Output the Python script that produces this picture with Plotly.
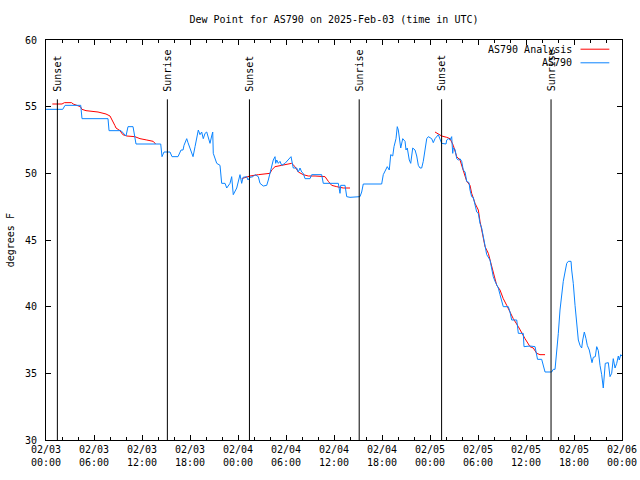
import pandas as pd
import plotly.graph_objects as go

START = pd.Timestamp("2025-02-03 00:00")

# Observed dew point (AS790): hours after 2025-02-03 00:00 UTC, degrees F
obs_hours = [0.0, 2.09, 2.38, 4.34, 4.5, 7.75, 7.88, 9.38, 10.0, 10.25, 10.88, 11.13, 11.25, 14.34,
             14.5, 14.75, 15.5, 15.75, 16.5, 16.88, 17.13, 17.25, 17.59, 17.75, 18.21, 18.38, 18.63,
             18.84, 19.04, 19.25, 19.46, 19.66, 19.88, 20.09, 20.29, 20.5, 20.71, 20.84, 20.91, 21.13,
             21.34, 21.75, 21.96, 22.38, 22.59, 23.0, 23.21, 23.41, 23.84, 24.25, 24.46, 24.63, 25.09,
             25.25, 25.5, 25.88, 26.13, 26.54, 26.75, 27.16, 27.59, 27.79, 28.0, 28.21, 28.41, 28.63,
             28.71, 28.84, 29.04, 29.25, 29.46, 29.88, 30.29, 30.5, 30.63, 30.71, 30.91, 31.34, 31.54,
             31.75, 31.96, 32.16, 32.38, 33.0, 33.21, 34.46, 34.66, 36.54, 36.75, 36.84, 37.38, 37.59,
             38.0, 39.25, 39.46, 39.66, 41.96, 42.16, 42.38, 42.66, 42.91, 43.09, 43.34, 43.5, 43.75,
             43.91, 44.04, 44.16, 44.34, 44.59, 44.88, 45.0, 45.16, 45.41, 45.59, 45.84, 46.13, 46.34,
             46.54, 46.75, 46.96, 47.16, 47.38, 47.59, 47.79, 48.21, 48.41, 48.63, 49.04, 49.25, 49.46,
             50.0, 50.09, 50.29, 50.5, 50.71, 50.84, 50.91, 51.13, 51.34, 51.54, 51.75, 51.96, 52.16,
             52.38, 52.59, 52.88, 53.0, 53.21, 53.41, 53.63, 53.84, 54.04, 54.25, 54.46, 54.66, 54.88,
             55.09, 55.5, 55.71, 55.91, 56.13, 56.54, 56.75, 57.16, 57.79, 58.0, 58.21, 58.84, 59.04,
             59.66, 59.75, 60.5, 61.13, 61.34, 61.44, 61.96, 62.16, 62.38, 63.21, 63.41, 63.63, 63.84,
             64.04, 64.25, 64.46, 64.66, 64.88, 65.09, 65.29, 65.63, 65.71, 65.91, 66.13, 66.34, 66.54,
             66.75, 66.96, 67.09, 67.29, 67.5, 67.66, 67.91, 68.09, 68.25, 68.41, 68.66, 68.84, 69.04,
             69.25, 69.46, 69.66, 69.75, 69.91, 70.29, 70.5, 70.71, 70.91, 71.13, 71.34, 71.54, 71.66,
             71.84, 72.0]
obs_values = [54.8, 54.8, 55.1, 55.1, 54.1, 54.1, 53.2, 53.2, 52.8, 53.5, 53.5, 52.8, 52.2, 52.2,
              51.25, 51.6, 51.6, 51.25, 51.25, 51.75, 51.75, 52.1, 52.6, 52.3, 51.5, 51.25, 52.0,
              52.75, 53.25, 52.9, 53.1, 52.6, 53.0, 53.1, 52.75, 52.25, 52.8, 53.1, 51.5, 51.1,
              50.75, 50.6, 49.25, 49.25, 48.9, 49.25, 49.75, 48.4, 48.9, 49.9, 49.25, 49.7, 49.75,
              49.5, 49.7, 49.75, 49.9, 49.75, 49.25, 49.05, 49.1, 49.5, 50.0, 50.4, 51.0, 51.25,
              50.75, 51.0, 50.75, 50.9, 50.6, 50.75, 51.0, 51.1, 51.25, 51.0, 50.4, 50.4, 50.1,
              50.4, 50.1, 50.0, 49.6, 49.6, 49.9, 49.9, 49.25, 49.25, 48.5, 49.1, 49.1, 48.25,
              48.2, 48.25, 48.6, 49.2, 49.2, 49.9, 50.2, 50.5, 50.25, 51.4, 51.3, 52.0, 52.6,
              53.5, 53.25, 52.5, 51.9, 52.6, 52.4, 51.75, 51.9, 51.0, 50.75, 51.9, 51.75, 51.3,
              50.6, 50.4, 50.4, 50.9, 52.0, 52.6, 52.75, 52.6, 52.3, 52.6, 52.9, 52.5, 52.25,
              52.2, 52.5, 52.6, 52.5, 52.75, 51.5, 51.9, 51.8, 51.1, 51.0, 51.1, 50.9, 50.25,
              50.1, 49.4, 49.3, 48.75, 48.25, 48.2, 47.5, 47.1, 47.0, 46.25, 45.9, 45.25, 44.5,
              43.9, 43.5, 42.9, 42.25, 41.9, 41.4, 40.9, 40.0, 40.0, 39.6, 39.0, 39.0, 38.0,
              38.0, 37.0, 37.05, 37.0, 36.5, 36.05, 36.05, 35.6, 35.1, 35.1, 35.3, 35.3, 36.5,
              38.0, 39.75, 41.0, 41.9, 42.6, 43.25, 43.4, 43.4, 42.75, 41.75, 40.1, 38.4, 37.5,
              37.1, 36.9, 37.5, 38.1, 37.6, 37.1, 36.75, 36.25, 35.8, 36.2, 36.25, 37.0, 36.7,
              35.6, 34.9, 33.9, 34.7, 35.75, 35.8, 34.75, 35.0, 36.1, 35.4, 35.75, 36.3, 36.0,
              36.4, 36.3]

# Analysis (three separate night-time segments; None = gap)
ana_hours = [0.79, 2.0, 2.3, 3.2, 3.4, 4.3, 4.5, 5.0, 6.5, 7.5, 8.0, 8.3, 8.6, 8.75, 9.25, 9.6,
             10.1, 11.1, 11.75, 12.6, 13.4, 13.7, 13.8,
             24.46, 25.09, 25.5, 26.54, 27.38, 28.0, 28.21, 28.63, 29.46, 30.09, 30.71, 31.13,
             31.54, 32.16, 32.79, 33.63, 34.46, 34.88, 35.29, 35.71, 36.34, 37.16, 38.0, 38.1,
             48.63, 49.04, 49.46, 50.09, 50.5, 50.91, 51.34, 51.75, 52.16, 52.59, 53.0, 53.21,
             53.63, 54.04, 54.25, 54.66, 54.88, 55.29, 55.71, 56.13, 56.34, 56.75, 57.16, 57.59,
             58.0, 58.41, 59.04, 59.46, 59.88, 60.5, 60.91, 61.34, 61.75, 62.38]
ana_values = [55.2, 55.2, 55.3, 55.3, 55.2, 55.0, 54.8, 54.7, 54.6, 54.45, 54.3, 54.0, 53.6, 53.4,
              53.2, 52.9, 52.8, 52.75, 52.6, 52.5, 52.4, 52.2, None,
              49.6, 49.7, 49.8, 49.9, 49.95, 50.0, 50.25, 50.5, 50.6, 50.7, 50.75, 50.5, 50.1,
              49.9, 49.8, 49.8, 49.75, 49.75, 49.4, 49.1, 49.0, 48.9, 48.9, None,
              53.1, 52.95, 52.8, 52.7, 52.6, 52.1, 51.25, 51.0, 50.25, 49.4, 49.1, 48.5, 47.75,
              47.25, 46.4, 45.1, 44.5, 44.0, 43.1, 42.25, 41.6, 41.25, 40.6, 40.1, 39.6, 39.1,
              38.5, 38.0, 37.6, 37.0, 36.9, 36.5, 36.4, 36.4]

# Sun events (hours after start) and their labels
sun_hours = [1.42, 15.17, 25.43, 39.15, 49.45, 63.13]
sun_labels = ["Sunset", "Sunrise", "Sunset", "Sunrise", "Sunset", "Sunrise"]
sun_line_top = 55.55

title_text = "Dew Point for AS790 on 2025-Feb-03 (time in UTC)"
y_title = "degrees F"
name_obs = "AS790"
name_ana = "AS790 Analysis"

FONT = "DejaVu Sans Mono"
BLUE = "#0a84ff"
RED = "#ff0000"


def to_time(hours):
    return [START + pd.Timedelta(hours=h) for h in hours]


fig = go.Figure()
fig.add_trace(go.Scatter(x=to_time(ana_hours), y=ana_values, mode="lines",
                         line=dict(color=RED, width=1), name=name_ana,
                         connectgaps=False, showlegend=False))
fig.add_trace(go.Scatter(x=to_time(obs_hours), y=obs_values, mode="lines",
                         line=dict(color=BLUE, width=1), name=name_obs, showlegend=False))

for t, lab in zip(to_time(sun_hours), sun_labels):
    fig.add_shape(type="line", x0=t, x1=t, y0=30, y1=sun_line_top, xref="x", yref="y",
                  line=dict(color="black", width=1))
    fig.add_annotation(x=t, y=sun_line_top, xref="x", yref="y", text=lab, textangle=-90,
                       showarrow=False, xanchor="center", yanchor="bottom", yshift=6,
                       font=dict(family=FONT, size=10, color="black"))

# Legend drawn gnuplot-style (text right, sample line to its right)
leg_items = [(name_ana, RED, 0.977), (name_obs, BLUE, 0.943)]
for name, col, yp in leg_items:
    fig.add_annotation(x=0.916, y=yp, xref="paper", yref="paper", text=name,
                       showarrow=False, xanchor="right", yanchor="middle",
                       font=dict(family=FONT, size=10, color="black"))
    fig.add_shape(type="line", x0=0.928, x1=0.978, y0=yp, y1=yp, xref="paper", yref="paper",
                  line=dict(color=col, width=1))

fig.add_annotation(x=-0.062, y=0.5, xref="paper", yref="paper", text=y_title, textangle=-90,
                   showarrow=False, xanchor="center", yanchor="middle",
                   font=dict(family=FONT, size=10, color="black"))

fig.update_layout(
    width=640, height=480,
    margin=dict(l=46, r=18, t=40, b=40, autoexpand=False),
    paper_bgcolor="white", plot_bgcolor="white",
    font=dict(family=FONT, size=10, color="black"),
    title=dict(text=title_text, x=0.5, xref="paper", y=0.96, yref="container",
               xanchor="center", yanchor="middle", font=dict(family=FONT, size=10)),
    showlegend=False,
)
fig.update_xaxes(
    range=[START, START + pd.Timedelta(hours=72)], automargin=False,
    dtick=6 * 3600 * 1000, tick0=START, tickformat="%m/%d<br>%H:%M",
    ticks="inside", ticklen=5, tickcolor="black", showgrid=False, zeroline=False,
    showline=True, linecolor="black", linewidth=1, mirror="ticks",
    minor=dict(dtick=2 * 3600 * 1000, tick0=START, ticks="inside", ticklen=3,
               tickcolor="black", showgrid=False),
    tickfont=dict(family=FONT, size=10),
)
fig.update_yaxes(
    range=[30, 60], dtick=5, ticks="inside", ticklen=5, tickcolor="black", automargin=False,
    showgrid=False, zeroline=False, showline=True, linecolor="black", linewidth=1,
    mirror="ticks", ticklabelstandoff=6, tickfont=dict(family=FONT, size=10),
)

fig.write_html("out.html", config={"displayModeBar": False},
               post_script="document.body.style.margin='0';document.body.style.padding='0';")
